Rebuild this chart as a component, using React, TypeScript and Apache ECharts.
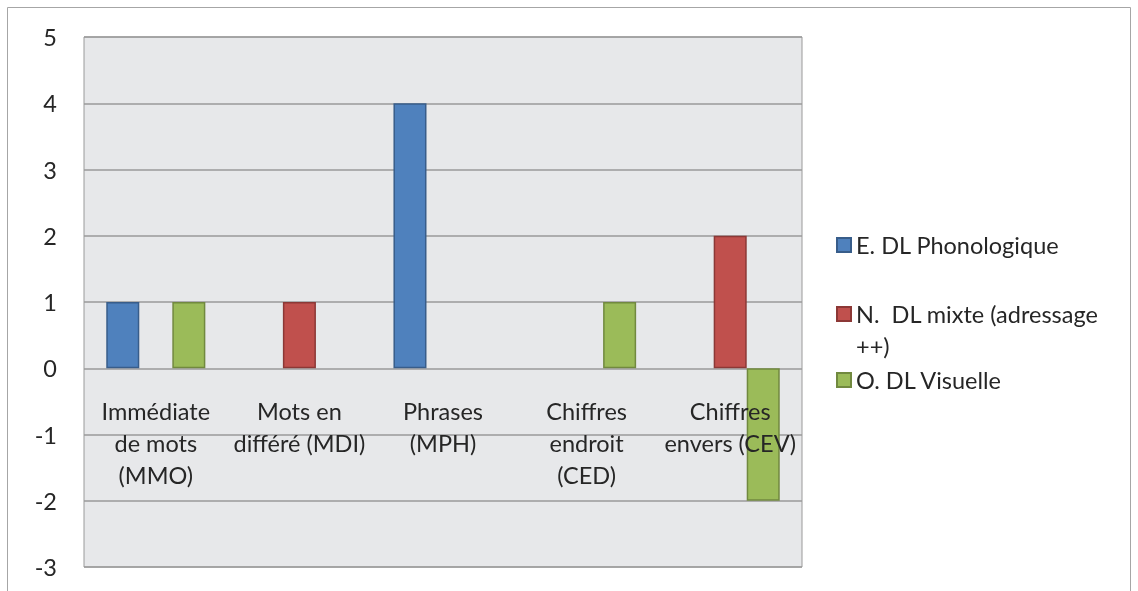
import React, { useEffect, useRef } from "react";
import * as echarts from "echarts";

const categories = [
  "Immédiate\nde mots\n(MMO)",
  "Mots en\ndifféré (MDI)",
  "Phrases\n(MPH)",
  "Chiffres\nendroit\n(CED)",
  "Chiffres\nenvers (CEV)",
];
const seriesNames = [
  "E. DL Phonologique",
  "N.  DL mixte (adressage ++)",
  "O. DL Visuelle",
];
const phonologique = [1, 0, 4, 0, 0];
const mixte = [0, 1, 0, 0, 2];
const visuelle = [1, 0, 0, 1, -2];
const yTicks = { min: -3, max: 5, interval: 1 };

const FONT = "Lato, 'Open Sans', sans-serif";
const TEXT = "#262626";
const FS = 23.5;

const toData = (arr: number[]) =>
  arr.map((v) => (v === 0 ? { value: v, itemStyle: { borderWidth: 0, opacity: 0 } } : v));

export default function App() {
  const ref = useRef<HTMLDivElement>(null);
  useEffect(() => {
    if (!ref.current) return;
    const chart = echarts.init(ref.current, null, { renderer: "svg" });
    const legendBase = {
      orient: "vertical",
      left: 831,
      itemWidth: 14,
      itemHeight: 14,
      itemGap: 0,
      icon: "rect",
      selectedMode: false,
      textStyle: { fontSize: FS, color: TEXT, fontFamily: FONT, lineHeight: 32 },
    };
    // pixel geometry of the plot
    const plotTop = 37;
    const plotBottomPx = 567;
    const zeroRatio = (yTicks.max - 0) / (yTicks.max - yTicks.min);
    const zeroY = plotTop + (plotBottomPx - plotTop) * zeroRatio;
    chart.setOption({
      animation: false,
      textStyle: { fontFamily: FONT },
      graphic: [
        {
          type: "rect",
          shape: { x: 7.5, y: 7.5, width: 1123, height: 600 },
          style: { fill: "none", stroke: "#a6a6a6", lineWidth: 1 },
          silent: true,
        },
      ],
      grid: [
        {
          left: 84,
          right: 336,
          top: plotTop,
          bottom: 591 - plotBottomPx,
          show: true,
          backgroundColor: "#e7e8ea",
          borderColor: "#9a9a9a",
          borderWidth: 1,
          containLabel: false,
          outerBoundsMode: "none",
        },
        {
          left: 84,
          right: 336,
          top: plotTop,
          bottom: 591 - zeroY,
          show: false,
          containLabel: false,
          outerBoundsMode: "none",
        },
      ],
      legend: [
        { ...legendBase, top: 224, data: [seriesNames[0]] },
        {
          ...legendBase,
          top: 261,
          data: [seriesNames[1]],
          formatter: () => "\nN.  DL mixte (adressage\n++)",
        },
        { ...legendBase, top: 359, data: [seriesNames[2]] },
      ],
      xAxis: [
        {
          type: "category",
          gridIndex: 0,
          data: categories,
          axisLine: { show: false },
          axisTick: { show: false },
          axisLabel: { show: false },
        },
        {
          type: "category",
          gridIndex: 1,
          data: categories,
          z: 10,
          axisLine: { show: false },
          axisTick: { show: false },
          axisLabel: {
            margin: 27,
            fontSize: FS,
            lineHeight: 32,
            color: TEXT,
            fontFamily: FONT,
            interval: 0,
          },
        },
      ],
      yAxis: [
        {
          type: "value",
          gridIndex: 0,
          min: yTicks.min,
          max: yTicks.max,
          interval: yTicks.interval,
          axisLine: { show: false },
          axisTick: { show: false },
          splitLine: { lineStyle: { color: "#9a9a9a", width: 1.5 } },
          axisLabel: { margin: 27, fontSize: FS, color: TEXT, fontFamily: FONT },
        },
        {
          type: "value",
          gridIndex: 1,
          show: false,
          min: 0,
          max: yTicks.max,
        },
      ],
      series: [
        {
          name: seriesNames[0],
          type: "bar",
          data: toData(phonologique),
          barGap: "0%",
          barCategoryGap: "31%",
          itemStyle: { color: "#4f81bd", borderColor: "#385d8a", borderWidth: 1.5 },
        },
        {
          name: seriesNames[1],
          type: "bar",
          data: toData(mixte),
          barGap: "0%",
          barCategoryGap: "31%",
          itemStyle: { color: "#c0504d", borderColor: "#8c3836", borderWidth: 1.5 },
        },
        {
          name: seriesNames[2],
          type: "bar",
          data: toData(visuelle),
          barGap: "0%",
          barCategoryGap: "31%",
          itemStyle: { color: "#9bbb59", borderColor: "#71893f", borderWidth: 1.5 },
        },
      ],
    });
    return () => chart.dispose();
  }, []);
  return (
    <div
      ref={ref}
      style={{ position: "fixed", left: 0, top: 0, width: 1138, height: 591 }}
    />
  );
}
